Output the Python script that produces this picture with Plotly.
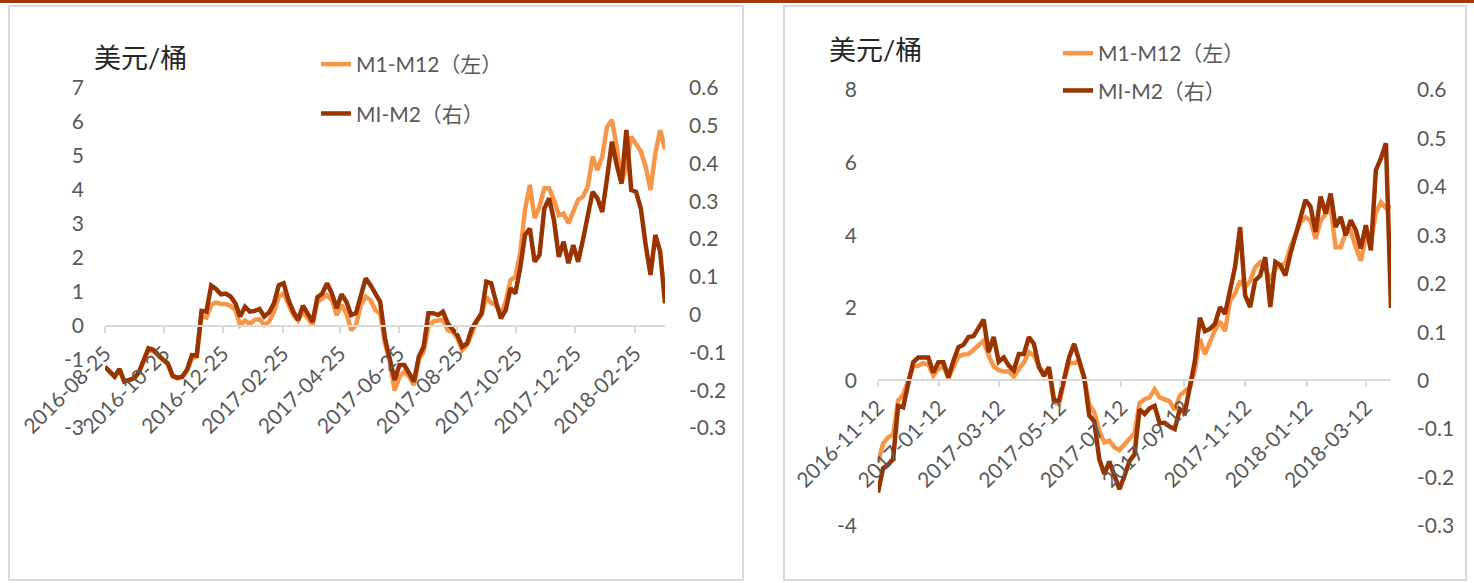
import pandas as pd
import plotly.graph_objects as go

# ---------------- data ----------------
left_start = "2016-08-25"
right_start = "2016-11-12"
step = "5D"

left_m1m12 = [
    -1.20, -1.34, -1.49, -1.27, -1.64, -1.59, -1.54, -1.37, -1.02, -0.71,
    -0.73, -0.88, -1.00, -1.10, -1.49, -1.54, -1.51, -1.31, -0.95, -0.90,
    0.29, 0.25, 0.62, 0.69, 0.65, 0.65, 0.59, 0.47, 0.03, 0.16,
    0.06, 0.18, 0.20, 0.03, 0.13, 0.42, 0.86, 0.96, 0.62, 0.32,
    0.16, 0.42, 0.23, 0.03, 0.72, 0.81, 0.91, 0.76, 0.32, 0.62,
    0.37, -0.12, 0.03, 0.62, 0.86, 0.76, 0.47, 0.37, -0.51, -1.05,
    -1.90, -1.49, -1.34, -1.49, -1.74, -1.00, -0.75, -0.02, 0.13, 0.16,
    0.18, -0.12, -0.17, -0.36, -0.71, -0.56, -0.17, 0.13, 0.32, 0.86,
    0.67, 0.62, 0.32, 0.72, 1.35, 1.45, 2.14, 3.41, 4.15, 3.17,
    3.51, 4.05, 4.05, 3.71, 3.26, 3.31, 3.02, 3.36, 3.71, 3.80,
    4.10, 4.98, 4.59, 4.98, 5.86, 6.06, 5.27, 4.20, 4.69, 5.57,
    5.37, 5.13, 4.69, 4.00, 5.08, 5.76, 5.20,
]
left_m1m2 = [
    -0.138, -0.151, -0.164, -0.144, -0.177, -0.173, -0.168, -0.153, -0.120, -0.089,
    -0.093, -0.108, -0.119, -0.129, -0.161, -0.167, -0.164, -0.146, -0.107, -0.108,
    0.010, 0.008, 0.077, 0.068, 0.054, 0.056, 0.048, 0.030, -0.005, 0.021,
    0.008, 0.010, 0.015, -0.005, 0.006, 0.030, 0.078, 0.083, 0.039, 0.008,
    -0.014, 0.024, 0.004, -0.019, 0.046, 0.056, 0.083, 0.056, 0.017, 0.054,
    0.034, -0.001, 0.004, 0.052, 0.096, 0.078, 0.056, 0.034, -0.063, -0.120,
    -0.173, -0.133, -0.133, -0.155, -0.177, -0.111, -0.085, 0.004, 0.004, -0.001,
    0.008, -0.023, -0.038, -0.054, -0.085, -0.076, -0.036, -0.017, 0.004, 0.087,
    0.083, 0.034, -0.010, 0.012, 0.070, 0.056, 0.123, 0.211, 0.228, 0.140,
    0.158, 0.281, 0.308, 0.250, 0.153, 0.193, 0.136, 0.184, 0.140, 0.198,
    0.264, 0.325, 0.308, 0.272, 0.361, 0.458, 0.396, 0.347, 0.489, 0.330,
    0.325, 0.281, 0.184, 0.105, 0.211, 0.167, 0.030,
]

right_m1m12 = [
    -2.25, -1.74, -1.56, -1.49, -0.55, -0.39, 0.00, 0.39, 0.41, 0.48,
    0.44, 0.14, 0.32, 0.39, 0.07, 0.37, 0.67, 0.72, 0.73, 0.85,
    0.96, 1.10, 0.69, 0.39, 0.29, 0.25, 0.26, 0.11, 0.32, 0.50,
    0.78, 0.69, 0.41, 0.18, 0.26, -0.60, -0.65, 0.00, 0.50, 0.48,
    0.53, 0.05, -0.64, -0.87, -1.38, -1.70, -1.65, -1.83, -1.91, -1.76,
    -1.58, -1.45, -0.62, -0.51, -0.46, -0.24, -0.46, -0.50, -0.57, -0.81,
    -0.41, -0.29, -0.18, 0.29, 1.15, 0.73, 1.06, 1.39, 1.63, 1.36,
    2.20, 2.40, 2.75, 2.57, 2.75, 3.12, 3.26, 3.07, 2.77, 3.07,
    3.17, 3.23, 3.67, 4.06, 4.36, 4.50, 4.40, 3.90, 4.40, 4.59,
    4.75, 3.67, 3.67, 4.08, 4.13, 3.67, 3.30, 3.99, 3.81, 4.63,
    4.91, 4.75, 4.80,
]
right_m1m2 = [
    -0.231, -0.181, -0.173, -0.162, -0.052, -0.055, -0.007, 0.038, 0.048, 0.048,
    0.048, 0.017, 0.038, 0.038, 0.007, 0.041, 0.069, 0.074, 0.090, 0.092,
    0.107, 0.126, 0.059, 0.090, 0.039, 0.048, 0.031, 0.021, 0.055, 0.055,
    0.090, 0.076, 0.028, 0.010, 0.028, -0.041, -0.041, 0.007, 0.048, 0.076,
    0.040, 0.007, -0.072, -0.084, -0.162, -0.193, -0.167, -0.193, -0.224, -0.197,
    -0.166, -0.152, -0.059, -0.069, -0.057, -0.052, -0.088, -0.087, -0.095, -0.100,
    -0.059, -0.066, -0.017, 0.040, 0.130, 0.102, 0.107, 0.117, 0.152, 0.138,
    0.186, 0.235, 0.317, 0.176, 0.152, 0.207, 0.217, 0.255, 0.152, 0.245,
    0.238, 0.217, 0.262, 0.300, 0.335, 0.373, 0.359, 0.307, 0.380, 0.345,
    0.386, 0.317, 0.338, 0.300, 0.331, 0.311, 0.273, 0.321, 0.269, 0.435,
    0.459, 0.490, 0.150,
]

left_xticks = ["2016-08-25", "2016-10-25", "2016-12-25", "2017-02-25", "2017-04-25",
               "2017-06-25", "2017-08-25", "2017-10-25", "2017-12-25", "2018-02-25"]
right_xticks = ["2016-11-12", "2017-01-12", "2017-03-12", "2017-05-12", "2017-07-12",
                "2017-09-12", "2017-11-12", "2018-01-12", "2018-03-12"]

left_yl_vals = [7, 6, 5, 4, 3, 2, 1, 0, -1, -3]
right_yl_vals = [8, 6, 4, 2, 0, -4]
yr_vals = [0.6, 0.5, 0.4, 0.3, 0.2, 0.1, 0, -0.1, -0.2, -0.3]
yr_text = ["0.6", "0.5", "0.4", "0.3", "0.2", "0.1", "0", "-0.1", "-0.2", "-0.3"]

name_a = "M1-M12（左）"
name_b = "MI-M2（右）"
unit_title = "美元/桶"

# ---------------- styling ----------------
W, H = 1474, 583
LIGHT = "#F79646"
DARK = "#993300"
GRID = "#D9D9D9"
TXT = "#595959"
FONT = "Lato, 'Noto Sans CJK SC', sans-serif"
LW = 4.5


def px(x):
    return x / W


def py(y):
    return 1 - y / H


left_dates = pd.date_range(left_start, periods=len(left_m1m12), freq=step)
right_dates = pd.date_range(right_start, periods=len(right_m1m12), freq=step)

fig = go.Figure()
fig.add_trace(go.Scatter(x=left_dates, y=left_m1m12, name=name_a, mode="lines",
                         line=dict(color=LIGHT, width=LW), xaxis="x", yaxis="y",
                         legend="legend", legendgroup="a"))
fig.add_trace(go.Scatter(x=left_dates, y=left_m1m2, name=name_b, mode="lines",
                         line=dict(color=DARK, width=LW), xaxis="x", yaxis="y2",
                         legend="legend", legendgroup="b"))
fig.add_trace(go.Scatter(x=right_dates, y=right_m1m12, name=name_a, mode="lines",
                         line=dict(color=LIGHT, width=LW), xaxis="x2", yaxis="y3",
                         legend="legend2", legendgroup="c"))
fig.add_trace(go.Scatter(x=right_dates, y=right_m1m2, name=name_b, mode="lines",
                         line=dict(color=DARK, width=LW), xaxis="x2", yaxis="y4",
                         legend="legend2", legendgroup="d"))

tickfont = dict(family=FONT, size=21, color=TXT)

xcommon = dict(type="date", tickmode="array", tickformat="%Y-%m-%d", tickangle=-45,
               showline=True, linecolor=GRID, linewidth=2, ticks="outside", ticklen=6,
               tickwidth=2, tickcolor=GRID, showgrid=False, zeroline=False,
               tickfont=tickfont, anchor="free", automargin=False)
ycommon = dict(showgrid=False, zeroline=False, showline=False, ticks="",
               tickmode="array", tickfont=tickfont, automargin=False)

fig.update_layout(
    width=W, height=H,
    margin=dict(l=0, r=0, t=0, b=0),
    paper_bgcolor="white", plot_bgcolor="white",
    font=dict(family=FONT, color=TXT),
    showlegend=True,
    xaxis=dict(xcommon, domain=[px(105), px(665)],
               range=[left_dates[0], left_dates[-1]],
               tickvals=left_xticks, position=py(326)),
    yaxis=dict(ycommon, domain=[py(428), py(88)], range=[-3, 7], anchor="x",
               tickvals=left_yl_vals, ticktext=[str(v) for v in left_yl_vals],
               ticklabelstandoff=20),
    yaxis2=dict(ycommon, domain=[py(428), py(88)], range=[-0.3, 0.6], anchor="x",
                overlaying="y", side="right", tickvals=yr_vals, ticktext=yr_text,
                ticklabelstandoff=23),
    xaxis2=dict(xcommon, domain=[px(878), px(1391)],
                range=[right_dates[0], right_dates[-1]],
                tickvals=right_xticks, position=py(380)),
    yaxis3=dict(ycommon, domain=[py(526), py(90)], range=[-4, 8], anchor="x2",
                tickvals=right_yl_vals, ticktext=[str(v) for v in right_yl_vals],
                ticklabelstandoff=20),
    yaxis4=dict(ycommon, domain=[py(526), py(90)], range=[-0.3, 0.6], anchor="x2",
                overlaying="y3", side="right", tickvals=yr_vals, ticktext=yr_text,
                ticklabelstandoff=25),
    legend=dict(x=px(316), y=py(44), xanchor="left", yanchor="top",
                bgcolor="rgba(0,0,0,0)", font=dict(family=FONT, size=21, color=TXT),
                traceorder="grouped", tracegroupgap=19),
    legend2=dict(x=px(1058), y=py(33), xanchor="left", yanchor="top",
                 bgcolor="rgba(0,0,0,0)", font=dict(family=FONT, size=21, color=TXT),
                 traceorder="grouped", tracegroupgap=7),
    annotations=[
        dict(text=unit_title, x=px(140), y=py(57), xref="paper", yref="paper",
             xanchor="center", yanchor="middle", showarrow=False,
             font=dict(family=FONT, size=27, color="#262626")),
        dict(text=unit_title, x=px(875), y=py(50), xref="paper", yref="paper",
             xanchor="center", yanchor="middle", showarrow=False,
             font=dict(family=FONT, size=27, color="#262626")),
    ],
    shapes=[
        dict(type="rect", xref="paper", yref="paper", x0=0, x1=1, y0=py(3), y1=1,
             fillcolor="#9E3A0A", line=dict(width=0), layer="above"),
        dict(type="rect", xref="paper", yref="paper", x0=px(9), x1=px(743),
             y0=py(580), y1=py(6), line=dict(color=GRID, width=2), layer="below"),
        dict(type="rect", xref="paper", yref="paper", x0=px(784), x1=px(1466),
             y0=py(580), y1=py(6), line=dict(color=GRID, width=2), layer="below"),
    ],
)

fig.write_html("out.html", config={"displayModeBar": False},
               post_script="document.body.style.margin='0';document.body.style.overflow='hidden';")
